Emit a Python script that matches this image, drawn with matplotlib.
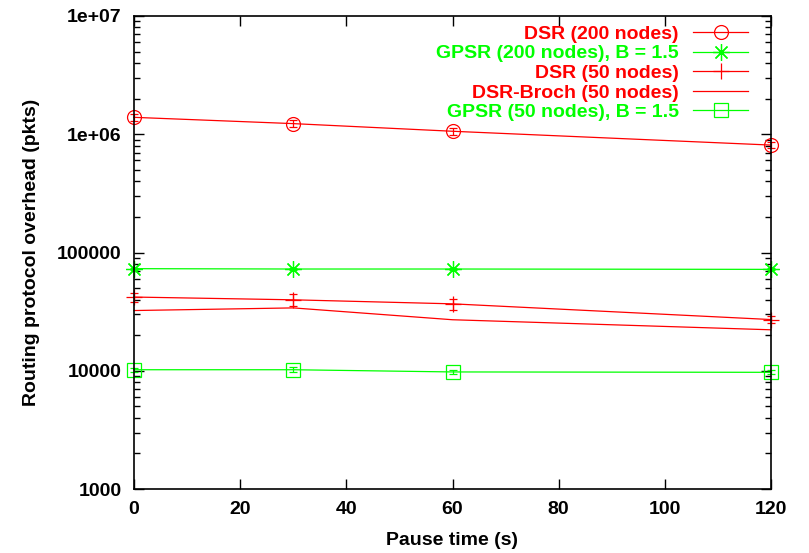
import matplotlib.pyplot as plt
import matplotlib.ticker as mticker
from matplotlib.lines import Line2D

# pause time (s)
pause = [0, 30, 60, 120]

# routing overhead (pkts)
dsr200 = [1390000, 1230000, 1060000, 810000]
dsr200_err = [90000, 80000, 70000, 50000]
gpsr200 = [73000, 72500, 72500, 72000]
gpsr200_err = [1500, 1500, 1500, 1500]
dsr50 = [42000, 39800, 36800, 27100]
dsr50_err = [3500, 4500, 4000, 2000]
broch50 = [32300, 34000, 27000, 22200]
gpsr50 = [10200, 10200, 9770, 9700]
gpsr50_err = [400, 500, 400, 400]

red = '#ff0000'
green = '#00ff00'

plt.rcParams['font.family'] = ['Liberation Sans', 'DejaVu Sans']
plt.rcParams['font.weight'] = 'bold'
plt.rcParams['font.size'] = 14

fig = plt.figure(figsize=(8.09, 5.53), dpi=100)
ax = fig.add_axes([134/809, 1-489/553, (771-134)/809, (489-16)/553])

common = dict(lw=0.9, capsize=3, elinewidth=0.9, capthick=0.9, mew=0.9, clip_on=False)
ax.errorbar(pause, dsr200, yerr=dsr200_err, color=red, marker='o', mfc='none', ms=10, **common)
ax.errorbar(pause, gpsr200, yerr=gpsr200_err, color=green, marker=(8, 2, 0), ms=12, **common)
ax.errorbar(pause, dsr50, yerr=dsr50_err, color=red, marker='+', ms=11, **common)
ax.plot(pause, broch50, color=red, lw=0.9, clip_on=False)
ax.errorbar(pause, gpsr50, yerr=gpsr50_err, color=green, marker='s', mfc='none', ms=10, **common)

handles = [
    Line2D([], [], color=red, lw=0.9, marker='o', mfc='none', ms=10, mew=0.9),
    Line2D([], [], color=green, lw=0.9, marker=(8, 2, 0), ms=12, mew=0.9),
    Line2D([], [], color=red, lw=0.9, marker='+', ms=11, mew=0.9),
    Line2D([], [], color=red, lw=0.9),
    Line2D([], [], color=green, lw=0.9, marker='s', mfc='none', ms=10, mew=0.9),
]
labels = ['DSR (200 nodes)', 'GPSR (200 nodes), B = 1.5', 'DSR (50 nodes)',
          'DSR-Broch (50 nodes)', 'GPSR (50 nodes), B = 1.5']

ax.set_yscale('log')
ax.set_ylim(1000, 1e7)
ax.set_xlim(0, 120)
ax.set_xticks([0, 20, 40, 60, 80, 100, 120])
ax.set_yticks([1000, 10000, 100000, 1e6, 1e7], ['1000', '10000', '100000', '1e+06', '1e+07'])
ax.yaxis.set_minor_locator(mticker.LogLocator(base=10, subs=range(2, 10)))
ax.yaxis.set_minor_formatter(mticker.NullFormatter())
ax.tick_params(which='both', direction='in', top=True, right=True)
ax.tick_params(axis='y', pad=9)
ax.tick_params(axis='x', pad=9)
ax.tick_params(which='major', length=7, width=1)
ax.tick_params(which='minor', length=4, width=1)
for s in ax.spines.values():
    s.set_linewidth(1.2)

ax.set_xlabel('Pause time (s)', fontweight='bold', labelpad=10)
ax.set_ylabel('Routing protocol overhead (pkts)', fontweight='bold', labelpad=12)

leg = ax.legend(handles, labels, loc='upper right', bbox_to_anchor=(0.982, 1.005), frameon=False,
                markerfirst=False, labelcolor='linecolor', handlelength=2.8,
                handletextpad=0.75, labelspacing=0.1, borderaxespad=0.2)

fig.savefig('out.png', dpi=100)
